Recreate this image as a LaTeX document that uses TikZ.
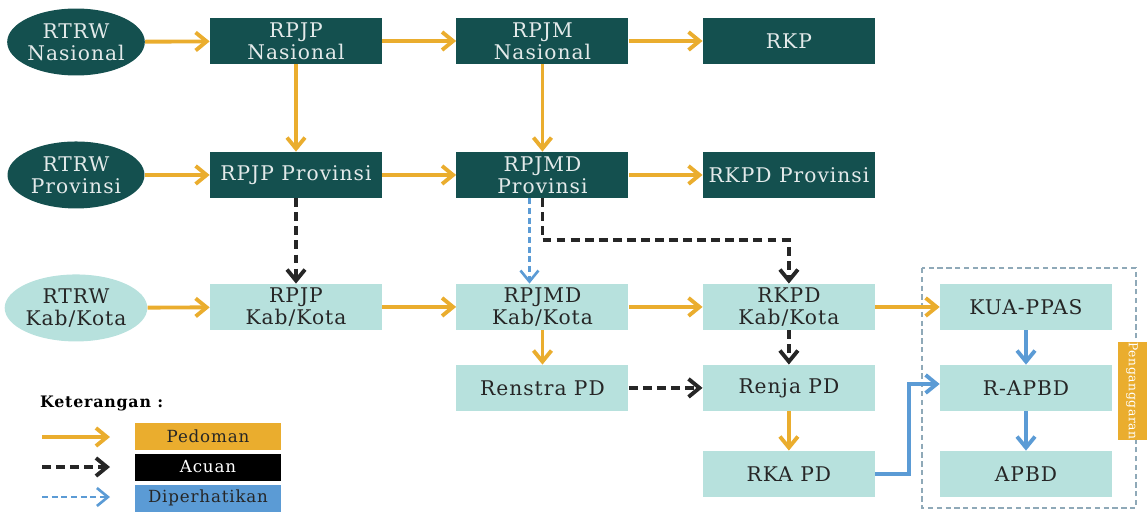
\documentclass[tikz,border=0pt]{standalone}
\usepackage{fontspec}
\setmainfont{DejaVu Serif}[LetterSpace=5]
\usepackage{xcolor}
\usetikzlibrary{positioning, arrows.meta, shapes.geometric}

\definecolor{tealdark}{HTML}{14504F}
\definecolor{teallight}{HTML}{B7E1DD}
\definecolor{pedoman}{HTML}{EAAD2E}
\definecolor{diperhatikan}{HTML}{5B9BD5}
\definecolor{bataspagu}{HTML}{8FA9B8}

\begin{document}
\begin{tikzpicture}[
    x=0.02cm, y=-0.02cm,
    node distance=4.93cm,
    font=\fontsize{11.5}{12.5}\selectfont,
    dark/.style={rectangle, fill=tealdark, text=white!88!tealdark, minimum width=3.44cm, minimum height=0.92cm, inner sep=1pt, align=center},
    light/.style={dark, fill=teallight, text=black!85},
    ovaldark/.style={ellipse, fill=tealdark, text=white!88!tealdark, minimum width=2.74cm, minimum height=1.34cm, inner sep=0pt, align=center},
    ovallight/.style={ovaldark, fill=teallight, text=black!85},
    ped/.style={draw=pedoman, line width=2.2pt, -{Straight Barb[length=0.22cm, width=0.36cm]}},
    acu/.style={draw=black!85, line width=2.2pt, dash pattern=on 5pt off 3pt, -{Straight Barb[length=0.22cm, width=0.36cm]}},
    dip/.style={draw=diperhatikan, line width=1.5pt, dash pattern=on 3.5pt off 2pt, -{Straight Barb[length=0.22cm, width=0.36cm]}},
    alir/.style={draw=diperhatikan, line width=2.2pt, -{Straight Barb[length=0.22cm, width=0.36cm]}},
    legbox/.style={rectangle, minimum width=2.94cm, minimum height=0.54cm, inner sep=0pt, font=\fontsize{9.5}{11}\selectfont}
]
\useasboundingbox (0,0) rectangle (1147,514);

% nasional
\node[ovaldark] (rtrwnas) at (76,42) {RTRW\\Nasional};
\node[dark] (rpjpnas) at (296,41) {RPJP\\Nasional};
\node[dark] (rpjmnas) [right of=rpjpnas] {RPJM\\Nasional};
\node[dark] (rkp) [right of=rpjmnas] {RKP};

% provinsi
\node[ovaldark] (rtrwprov) [below of=rtrwnas, node distance=2.66cm] {RTRW\\Provinsi};
\node[dark] (rpjpprov) [below of=rpjpnas, node distance=2.68cm] {RPJP Provinsi};
\node[dark] (rpjmdprov) [right of=rpjpprov] {RPJMD\\Provinsi};
\node[dark] (rkpdprov) [right of=rpjmdprov] {RKPD Provinsi};

% kab/kota
\node[ovallight] (rtrwkab) [below of=rtrwprov, node distance=2.66cm] {RTRW\\Kab/Kota};
\node[light] (rpjpkab) [below of=rpjpprov, node distance=2.64cm] {RPJP\\Kab/Kota};
\node[light] (rpjmdkab) [right of=rpjpkab] {RPJMD\\Kab/Kota};
\node[light] (rkpdkab) [right of=rpjmdkab] {RKPD\\Kab/Kota};
\node[light] (kuappas) at (1026,307) {KUA-PPAS};

% perangkat daerah
\node[light] (renstra) [below of=rpjmdkab, node distance=1.62cm] {Renstra PD};
\node[light] (renja) [below of=rkpdkab, node distance=1.62cm] {Renja PD};
\node[light] (rkapd) [below of=renja, node distance=1.72cm] {RKA PD};
\node[light] (rapbd) [below of=kuappas, node distance=1.62cm] {R-APBD};
\node[light] (apbd) [below of=rapbd, node distance=1.72cm] {APBD};

% penganggaran
\draw[bataspagu, line width=0.9pt, dash pattern=on 3pt off 2pt] (922,268) rectangle (1136,508);
\node[fill=pedoman, text=white, rotate=-90, minimum width=1.94cm, minimum height=0.58cm, inner sep=0pt, font=\fontsize{7}{8}\selectfont] (anggaran) at (1132,391) {Penganggaran};

% pedoman
\draw[ped] (rtrwnas) -- (rpjpnas);
\draw[ped] (rpjpnas) -- (rpjmnas);
\draw[ped] (rpjmnas) -- (rkp);
\draw[ped] (rpjpnas) -- (rpjpprov);
\draw[ped] (rpjmnas) -- (rpjmdprov);
\draw[ped] (rtrwprov) -- (rpjpprov);
\draw[ped] (rpjpprov) -- (rpjmdprov);
\draw[ped] (rpjmdprov) -- (rkpdprov);
\draw[ped] (rtrwkab) -- (rpjpkab);
\draw[ped] (rpjpkab) -- (rpjmdkab);
\draw[ped] (rpjmdkab) -- (rkpdkab);
\draw[ped] (rkpdkab) -- (kuappas);
\draw[ped] (rpjmdkab) -- (renstra);
\draw[ped] (renja) -- (rkapd);

% acuan
\draw[acu] (rpjpprov) -- (rpjpkab);
\draw[acu] (rpjmdprov.south) -- ++(0,42) -| (rkpdkab.north);
\draw[acu] (rkpdkab) -- (renja);
\draw[acu] (renstra) -- (renja);

% diperhatikan
\draw[dip] ([xshift=-0.26cm]rpjmdprov.south) -- ([xshift=-0.26cm]rpjmdkab.north);

% alur anggaran
\draw[alir] (kuappas) -- (rapbd);
\draw[alir] (rapbd) -- (apbd);
\draw[alir] (rkapd.east) -- ++(34,0) |- ([yshift=0.08cm]rapbd.west);

% keterangan
\node[anchor=west, font=\fontsize{9}{10}\selectfont\bfseries] (ket) at (34,403) {Keterangan :};
\node[legbox, fill=pedoman, text=black!85] (lped) at (208,436) {Pedoman};
\node[legbox, fill=black, text=white!85] (lacu) at (208,467) {Acuan};
\node[legbox, fill=diperhatikan, text=black!85] (ldip) at (208,498) {Diperhatikan};
\coordinate (ped0) at (42,437);
\coordinate (ped1) at (110,437);
\coordinate (acu0) at (42,467);
\coordinate (acu1) at (110,467);
\coordinate (dip0) at (42,497);
\coordinate (dip1) at (110,497);
\draw[ped] (ped0) -- (ped1);
\draw[acu] (acu0) -- (acu1);
\draw[dip] (dip0) -- (dip1);
\end{tikzpicture}
\end{document}
